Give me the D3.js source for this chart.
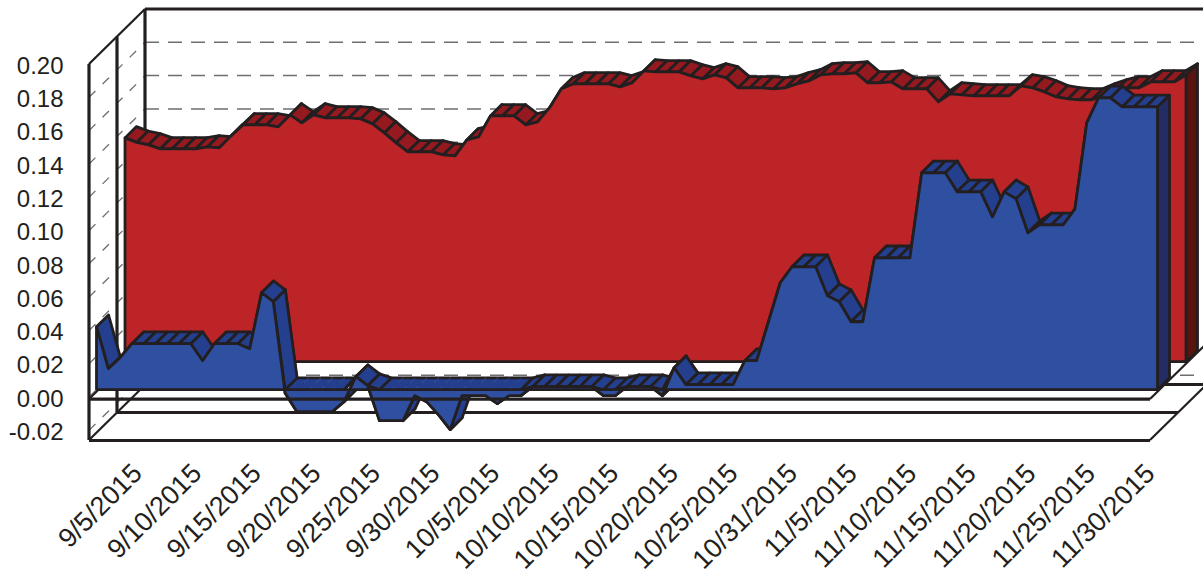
<!DOCTYPE html>
<html lang="en">

<head>
    <meta charset="UTF-8">
    <title>3D area chart in d3.js</title>
    <script src="https://d3js.org/d3.v7.min.js"></script>
    <style>
        body { margin: 0; background: #fff; }
        svg { display: block; }
        text { font-family: "Liberation Sans", Arial, sans-serif; fill: #231f20; }
    </style>
</head>

<body>
    <svg width="1203" height="580"></svg>
    <script>
        const xLabels = ['9/5/2015', '9/10/2015', '9/15/2015', '9/20/2015', '9/25/2015', '9/30/2015',
            '10/5/2015', '10/10/2015', '10/15/2015', '10/20/2015', '10/25/2015', '10/31/2015',
            '11/5/2015', '11/10/2015', '11/15/2015', '11/20/2015', '11/25/2015', '11/30/2015'];

        const yTicks = [-0.02, 0, 0.02, 0.04, 0.06, 0.08, 0.10, 0.12, 0.14, 0.16, 0.18, 0.20];

        const blueValues = [
            .0378, .0126, .0192, .0276, .0276, .0276, .0276, .0276, .0276, .0174,
            .0276, .0276, .0276, .0246, .0582, .0528, -.002, -.0132, -.0132, -.0132,
            -.0132, -.0072, .0078, .0024, -.0186, -.0186, -.0186, -.0036, -.0072, -.015,
            -.024, -.0036, -.0036, -.0036, -.0084, -.0036, -.0036, .0018, .0018, .0018,
            .0018, .0018, .0018, -.0036, -.0036, .0018, .0018, .0018, -.0036, .0132,
            .003, .003, .003, .003, .003, .0174, .0174, .0408, .0642, .0738,
            .0738, .0738, .0564, .0528, .0408, .0408, .0792, .0792, .0792, .0792,
            .1302, .1302, .1302, .1188, .1188, .1188, .1038, .1188, .1146, .0942,
            .099, .099, .099, .1086, .1602, .1752, .1752, .1698, .1698, .1698, .1698
        ];

        const redValues = [
            .1344, .1317, .1302, .1278, .1278, .1278, .1278, .129, .1284, .1356,
            .1422, .1422, .1422, .141, .1482, .1434, .1482, .1464, .1464, .1464,
            .1458, .1428, .1374, .1314, .126, .126, .126, .1242, .1236, .1332,
            .135, .1476, .1476, .1476, .1422, .144, .1524, .1638, .1668, .1668,
            .1668, .1668, .165, .1674, .1746, .174, .174, .174, .1716, .1698,
            .1722, .1704, .1644, .1644, .1644, .1638, .1644, .1668, .1686, .1722,
            .1728, .1728, .1734, .1674, .1674, .168, .1638, .1638, .1638, .156,
            .1608, .1602, .1596, .1596, .1596, .1596, .1656, .1644, .162, .159,
            .1578, .1572, .1572, .1602, .1626, .1644, .1644, .168, .168, .168, .1722
        ];

        const ink = '#231f20';
        const depthX = 56;
        const depthY = 55;

        const xScale = d3.scaleLinear().domain([0, blueValues.length - 1]).range([89, 1150]);
        const yScale = d3.scaleLinear().domain([-0.0258, 0.2]).range([440, 64]);
        const labelScale = d3.scalePoint().domain(xLabels).range([143, 1156]);

        // front plane coordinates pushed back by depth d
        const at = (i, v, d) => [xScale(i) + d, yScale(v) - d * depthY / depthX];
        const line = d3.line();
        const svg = d3.select('svg');

        const walls = svg.append('g').attr('fill', 'none').attr('stroke', ink);

        function wall(x1, y1, x2, y2, w) {
            walls.append('line')
                .attr('x1', x1).attr('y1', y1).attr('x2', x2).attr('y2', y2)
                .attr('stroke-width', w);
        }

        const yTop = yScale(0.2);
        const yBottom = yScale.range()[0];
        const xLeft = xScale.range()[0];
        const xRight = xScale.range()[1];
        // the zero plane's front edge sits a touch under the label centre
        const yZeroEdge = yScale(0) + 2;

        // dashed grid on the back wall and the left wall
        yTicks.forEach(t => {
            const y = yScale(t);
            walls.append('line')
                .attr('x1', xLeft + depthX).attr('y1', y - depthY)
                .attr('x2', 1203).attr('y2', y - depthY)
                .attr('stroke', '#6d6e71').attr('stroke-width', 1.5)
                .attr('stroke-dasharray', '14 9');
            walls.append('line')
                .attr('x1', xLeft).attr('y1', y)
                .attr('x2', xLeft + depthX).attr('y2', y - depthY)
                .attr('stroke', '#6d6e71').attr('stroke-width', 1.3)
                .attr('stroke-dasharray', '9 10');
        });

        wall(xLeft + depthX, yTop - depthY, 1203, yTop - depthY, 3.2);
        wall(xLeft + depthX, yTop - depthY, xLeft + depthX, yBottom - depthY, 3.2);
        wall(xLeft + depthX, yBottom - depthY - 0.5, 1203, yBottom - depthY - 0.5, 3.2);
        wall(xLeft + depthX / 2, yTop - depthY / 2, xLeft + depthX / 2, yBottom - depthY / 2, 3.2);
        wall(xLeft + depthX / 2, yBottom - depthY / 2, xRight + depthX / 2, yBottom - depthY / 2, 3.2);
        wall(xLeft, yTop, xLeft, yBottom, 3.2);
        wall(xLeft, yTop, xLeft + depthX, yTop - depthY, 2.2);
        wall(xLeft, yBottom + 0.5, xRight, yBottom + 0.5, 3.2);
        wall(xLeft, yBottom, xLeft + depthX, yBottom - depthY, 2.2);
        wall(xRight, yBottom, xRight + depthX, yBottom - depthY, 2.2);
        wall(xLeft, yZeroEdge, xLeft + depthX, yZeroEdge - depthY, 2.2);

        function drawSeries(values, d0, d1, colors) {
            const g = svg.append('g').attr('stroke', ink).attr('stroke-width', 2.8).attr('stroke-linejoin', 'round');
            const n = values.length;
            const quad = (i, a, b) => [at(i, a, d0), at(i + 1, b, d0), at(i + 1, b, d1), at(i, a, d1)];

            // parts below zero sit under the zero plane
            d3.range(n - 1).forEach(i => {
                if (values[i] < 0 || values[i + 1] < 0) {
                    g.append('path').attr('d', line(quad(i, values[i], values[i + 1])) + 'Z').attr('fill', colors.top);
                }
            });

            // zero plane over the negative runs, no cross lines there
            d3.range(n - 1).forEach(i => {
                if (values[i] <= 0 && values[i + 1] <= 0) {
                    g.append('path').attr('d', line(quad(i, 0, 0)) + 'Z').attr('fill', colors.top).attr('stroke', colors.top).attr('stroke-width', 0.5);
                    g.append('path').attr('d', line([at(i, 0, d1), at(i + 1, 0, d1)])).attr('fill', 'none');
                }
            });

            d3.range(n - 1).forEach(i => {
                if (values[i] > 0 || values[i + 1] > 0) {
                    g.append('path')
                        .attr('d', line(quad(i, Math.max(values[i], 0), Math.max(values[i + 1], 0))) + 'Z')
                        .attr('fill', colors.top);
                }
            });

            // right end
            g.append('path')
                .attr('d', line([at(n - 1, values[n - 1], d0), at(n - 1, values[n - 1], d1), at(n - 1, 0, d1), at(n - 1, 0, d0)]) + 'Z')
                .attr('fill', colors.side);

            const front = d3.area()
                .x((v, i) => at(i, v, d0)[0])
                .y0(at(0, 0, d0)[1])
                .y1(v => at(0, v, d0)[1]);

            g.append('path').datum(values).attr('d', front).attr('fill', colors.front);
        }

        drawSeries(redValues, 36, 47.5, { front: '#bc2427', top: '#951a1f', side: '#5a1410' });
        drawSeries(blueValues, 7.5, 19.5, { front: '#2f4fa0', top: '#253f8f', side: '#232c63' });

        // front edge of the zero plane stays in front of the series
        const zero = svg.append('g').attr('stroke', ink);
        zero.append('line').attr('x1', xLeft).attr('y1', yZeroEdge).attr('x2', xRight).attr('y2', yZeroEdge).attr('stroke-width', 3.2);
        zero.append('line').attr('x1', xRight).attr('y1', yZeroEdge).attr('x2', xRight + depthX).attr('y2', yZeroEdge - depthY).attr('stroke-width', 2.2);

        const yAxis = svg.append('g')
            .attr('transform', 'translate(63.5, 1.5)')
            .call(d3.axisLeft(yScale).tickValues(yTicks).tickSize(0).tickPadding(0).tickFormat(d => d.toFixed(2)));
        yAxis.select('.domain').remove();
        yAxis.selectAll('text').attr('font-size', 24).style('font-family', '"Liberation Sans", Arial, sans-serif');

        const xAxis = svg.append('g')
            .attr('transform', 'translate(0, 475)')
            .call(d3.axisBottom(labelScale).tickSize(0).tickPadding(0));
        xAxis.select('.domain').remove();
        xAxis.selectAll('text')
            .attr('font-size', 27)
            .style('font-family', '"Liberation Sans", Arial, sans-serif')
            .attr('text-anchor', 'end')
            .attr('x', 0).attr('y', 0).attr('dy', 0)
            .attr('transform', 'rotate(-45)');
    </script>
</body>

</html>
